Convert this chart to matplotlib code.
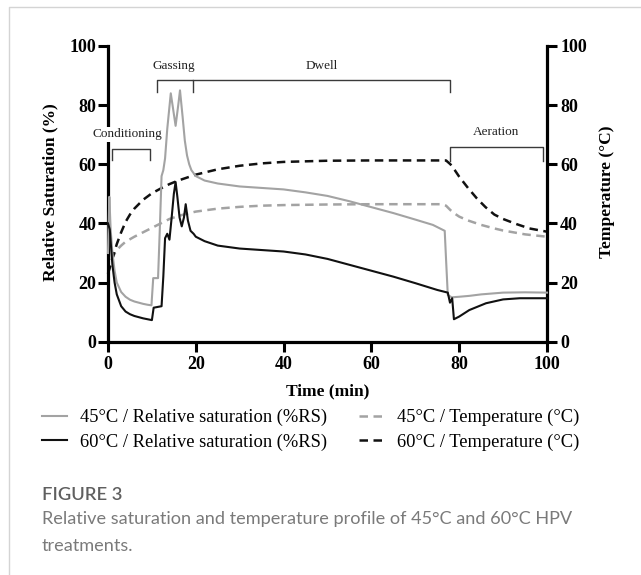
import matplotlib
matplotlib.use("Agg")
import matplotlib.pyplot as plt
from matplotlib.lines import Line2D

plt.rcParams["font.family"] = ["Liberation Serif", "DejaVu Serif"]

# ---------------- data ----------------
t_rs45 = [0, 0.3, 0.6, 1.0, 1.5, 2, 3, 4, 5, 6, 7, 8, 9, 9.9, 10.3, 11.4, 11.8, 12.2, 12.6,
          13.0, 13.5, 14.3, 14.8, 15.4, 16.0, 16.4, 17.0, 17.5, 18.0, 18.5, 19.0, 20, 22, 25,
          30, 35, 40, 45, 50, 55, 60, 65, 70, 74, 76.7, 77.0, 77.4, 78.3, 80, 82.3, 85, 90, 95, 100]
rs45 = [30, 49, 38, 30, 24, 20, 16.8, 15.2, 14.2, 13.6, 13.2, 12.8, 12.5, 12.3, 21.5, 21.5, 38, 56, 58,
        62, 72, 84, 79, 73, 80, 85, 76, 68, 63, 60, 58, 56, 54.5, 53.5,
        52.5, 52, 51.5, 50.5, 49.3, 47.5, 45.5, 43.5, 41.3, 39.5, 37.5, 28, 15.8, 15, 15.2, 15.5, 16, 16.6, 16.7, 16.6]

t_rs60 = [0, 0.4, 1, 1.5, 2, 3, 4, 5, 6, 7, 8, 9, 10, 10.4, 12.2, 12.6, 13.0, 13.5, 14.0, 14.5,
          15.0, 15.4, 15.8, 16.3, 16.8, 17.3, 17.7, 18.2, 18.8, 19.5, 20, 22, 25, 30, 35, 40, 45,
          50, 55, 60, 65, 70, 75, 77.4, 77.9, 78.4, 78.8, 80, 82.3, 86.1, 90, 93.8, 100]
rs60 = [40, 38, 26, 20, 16, 12, 10.2, 9.3, 8.7, 8.3, 7.9, 7.6, 7.3, 11.5, 12, 22, 35, 36.5, 34.5, 42,
        50, 54, 49, 42, 39, 42, 46.5, 41, 37.5, 36.5, 35.5, 34, 32.5, 31.5, 31, 30.5, 29.5,
        28, 26, 24, 22, 19.8, 17.5, 16.6, 13.2, 14.7, 7.6, 8.5, 10.7, 13, 14.3, 14.7, 14.7]

t_temp45 = [0, 0.5, 1, 2, 3, 4, 6, 8, 10, 12, 14, 16, 18, 20, 25, 30, 35, 40, 50, 60, 70, 76,
            77, 78, 79, 80, 82, 85, 88, 90, 95, 100]
temp45 = [23, 26, 28.5, 31, 32.5, 33.8, 35.5, 37, 38.5, 40, 41.5, 42.5, 43.3, 44, 45, 45.6, 46, 46.2,
          46.4, 46.5, 46.5, 46.5, 46, 44.5, 43.3, 42.3, 41, 39.5, 38.3, 37.6, 36.3, 35.5]

t_temp60 = [0, 0.5, 1, 2, 3, 4, 5, 6, 8, 10, 12, 14, 16, 18, 20, 25, 30, 35, 40, 50, 60, 70, 77,
            78, 79, 80, 82, 84, 86, 88, 90, 93, 96, 100]
temp60 = [23, 25.5, 28, 33, 37, 40.5, 43, 45, 48, 50.2, 51.8, 53.3, 54.5, 55.5, 56.5, 58.3, 59.5,
          60.3, 60.8, 61.2, 61.3, 61.3, 61.3, 60, 58, 55.8, 52, 48.5, 45.5, 43, 41.5, 39.8, 38.3, 37.2]

labels = ["45°C / Relative saturation (%RS)", "60°C / Relative saturation (%RS)",
          "45°C / Temperature (°C)", "60°C / Temperature (°C)"]
x_ticks = [0, 20, 40, 60, 80, 100]
y_ticks = [0, 20, 40, 60, 80, 100]

# phase annotations: name, start, end, bracket level, label x, label y
phases = ["Conditioning", "Gassing", "Dwell", "Aeration"]
phase_start = [1.0, 11.1, 19.3, 78.0]
phase_end = [9.5, 19.3, 78.0, 99.2]
phase_level = [65.0, 88.6, 88.6, 65.8]
phase_drop = [3.6, 4.0, 4.0, 4.8]
phase_label_x = [4.3, 15.0, 48.7, 88.4]
phase_label_y = [70.2, 93.4, 93.4, 70.9]

# ---------------- figure ----------------
W, H = 641, 575
fig = plt.figure(figsize=(W / 100, H / 100), dpi=100)
fig.patch.set_facecolor("white")

def fx(px):
    return px / W

def fy(py):
    return 1 - py / H

ax = fig.add_axes([fx(108), fy(341.7), fx(547) - fx(108), fy(46) - fy(341.7)])
ax2 = ax.twinx()

grey = "#a3a3a3"
black = "#111111"
dash = (0, (3.4, 2.2))

l1, = ax.plot(t_rs45, rs45, color=grey, lw=1.5, clip_on=False, zorder=3)
l2, = ax.plot(t_rs60, rs60, color=black, lw=1.5, clip_on=False, zorder=3)
l3, = ax2.plot(t_temp45, temp45, color=grey, lw=1.8, ls=dash, clip_on=False)
l4, = ax2.plot(t_temp60, temp60, color=black, lw=1.8, ls=dash, clip_on=False)

for a in (ax, ax2):
    a.set_xlim(0, 100)
    a.set_ylim(0, 100)
    a.set_yticks(y_ticks)
    a.spines["top"].set_visible(False)
    for s in a.spines.values():
        s.set_linewidth(2.3)
    a.tick_params(width=2.2, length=7, labelsize=13)
ax.spines["right"].set_visible(False)
ax2.spines["left"].set_visible(False)
ax2.spines["bottom"].set_visible(False)
ax.set_xticks(x_ticks)
ax.tick_params(axis="y", pad=1.5)
ax.tick_params(axis="x", pad=3)
ax2.tick_params(axis="y", pad=2.5)
for lab in ax.get_xticklabels() + ax.get_yticklabels() + ax2.get_yticklabels():
    lab.set_fontweight("bold")
ax.set_zorder(ax2.get_zorder() + 1)
ax.patch.set_visible(False)

# phase brackets
bc = "#3a3a3a"
for i, name in enumerate(phases):
    s, e, lv, d = phase_start[i], phase_end[i], phase_level[i], phase_drop[i]
    if name == "Dwell":
        ax.plot([s, e, e], [lv, lv, lv - d], color=bc, lw=1.0, clip_on=False)
    else:
        ax.plot([s, s, e, e], [lv - d, lv, lv, lv - d], color=bc, lw=1.0, clip_on=False)
    ax.text(phase_label_x[i], phase_label_y[i], name, ha="center", va="center",
            fontsize=9.5, color="#222222", zorder=10,
            bbox=dict(facecolor="white", edgecolor="none", pad=1.0))

# axis labels
fig.text(fx(50), fy(192), "Relative Saturation (%)", rotation=90, ha="center", va="center",
         fontsize=12.5, fontweight="bold")
fig.text(fx(607), fy(192), "Temperature (°C)", rotation=90, ha="center", va="center",
         fontsize=12.5, fontweight="bold")
fig.text(fx(328), fy(391.5), "Time (min)", ha="center", va="center",
         fontsize=12.5, fontweight="bold")

# legend
leg = fig.legend([l1, l2, l3, l4], labels, ncol=2, loc="upper left",
                 bbox_to_anchor=(fx(42), fy(409)), frameon=False,
                 prop={"size": 13.3}, handlelength=1.35,
                 handletextpad=0.7, columnspacing=1.73, labelspacing=0.4,
                 borderpad=0, borderaxespad=0)

# caption
fig.text(fx(42), fy(495), "FIGURE 3", ha="left", va="center", fontsize=13.2,
         family="Lato", fontweight="semibold", color="#5f5f5f")
fig.text(fx(42), fy(519), "Relative saturation and temperature profile of 45°C and 60°C HPV",
         ha="left", va="center", fontsize=13.1, family="Lato", color="#7a7a7a")
fig.text(fx(42), fy(546), "treatments.", ha="left", va="center", fontsize=13.1,
         family="Lato", color="#7a7a7a")

# card border
fig.add_artist(Line2D([fx(9), fx(9), fx(641)], [fy(575), fy(7), fy(7)],
                      transform=fig.transFigure, color="#d4d4d4", lw=1.0))

fig.savefig("out.png", dpi=100)
